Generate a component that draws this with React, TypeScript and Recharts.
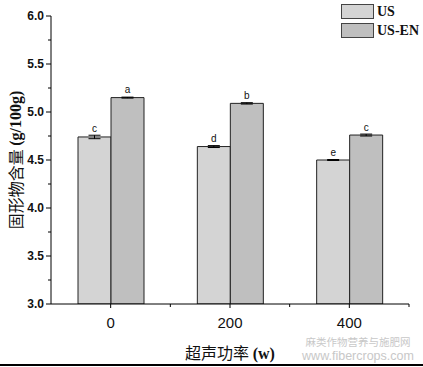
import { Bar, BarChart, ErrorBar, LabelList, XAxis, YAxis } from "recharts";

const categories = ["0", "200", "400"];
const usValues = [4.74, 4.64, 4.5];
const usEnValues = [5.15, 5.09, 4.76];
const usErrors = [0.018, 0.01, 0.005];
const usEnErrors = [0.005, 0.007, 0.01];
const usLetters = ["c", "d", "e"];
const usEnLetters = ["a", "b", "c"];
const yMajorTicks = [3.0, 3.5, 4.0, 4.5, 5.0, 5.5, 6.0];
const yMinorTicks = [3.25, 3.75, 4.25, 4.75, 5.25, 5.75];

const data = categories.map((power, i) => ({
  power,
  us: usValues[i],
  usEn: usEnValues[i],
  usErr: usErrors[i],
  usEnErr: usEnErrors[i],
  usLetter: usLetters[i],
  usEnLetter: usEnLetters[i],
}));

const W = 423;
const H = 367;
const MARGIN = { top: 16, right: 14, bottom: 33, left: 0 };
const Y_AXIS_W = 51;
const HALF_BAND = (W - MARGIN.right - Y_AXIS_W) / categories.length / 2;

const US_FILL = "#d4d4d4";
const US_EN_FILL = "#bfbfbf";
const SANS = "'Liberation Sans', Arial, sans-serif";
const SERIF = "'Liberation Serif', 'Times New Roman', serif";
const CJK = "'Noto Sans CJK SC', sans-serif";

const YTick = (props: any) => {
  const { x, y, payload } = props;
  const major = yMajorTicks.includes(payload.value);
  return (
    <g>
      <line x1={x - (major ? 5 : 3)} y1={y} x2={x} y2={y} stroke="#000" />
      {major && (
        <text
          x={x - 7}
          y={y}
          dy="0.36em"
          textAnchor="end"
          fontFamily={SANS}
          fontWeight="bold"
          fontSize={12}
          fill="#111"
        >
          {payload.value.toFixed(1)}
        </text>
      )}
    </g>
  );
};

const XTick = (props: any) => {
  const { x, y, payload } = props;
  return (
    <g>
      <line x1={x} y1={y} x2={x} y2={y + 4} stroke="#000" />
      <line x1={x + HALF_BAND} y1={y} x2={x + HALF_BAND} y2={y + 3} stroke="#000" />
      <text x={x} y={y + 24} textAnchor="middle" fontFamily={SANS} fontSize={15} fill="#111">
        {payload.value}
      </text>
    </g>
  );
};

const Letter = (props: any) => {
  const { x, y, width, value } = props;
  return (
    <text x={x + width / 2} y={y - 4.5} textAnchor="middle" fontFamily={SANS} fontSize={10} fill="#111">
      {value}
    </text>
  );
};

const legendItems = [
  { name: "US", fill: US_FILL },
  { name: "US-EN", fill: US_EN_FILL },
];

export default function App() {
  return (
    <div style={{ position: "absolute", left: 0, top: 0, width: W, height: H, background: "#fff" }}>
      <BarChart width={W} height={H} data={data} margin={MARGIN} barGap={0}>
        <XAxis
          dataKey="power"
          height={30}
          interval={0}
          tickSize={0}
          tickMargin={0}
          tick={<XTick />}
          axisLine={{ stroke: "#000" }}
          label={{
            position: "insideBottom",
            content: (p: any) => {
              const vb = p.viewBox;
              return (
                <text x={vb.x + vb.width / 2} y={vb.y + 55} textAnchor="middle" fontSize={16} fill="#111">
                  <tspan fontFamily={CJK}>超声功率 </tspan>
                  <tspan fontFamily={SERIF} fontWeight="bold">(w)</tspan>
                </text>
              );
            },
          }}
        />
        <YAxis
          type="number"
          domain={[3, 6]}
          ticks={[...yMajorTicks, ...yMinorTicks].sort((a, b) => a - b)}
          width={Y_AXIS_W}
          tickSize={0}
          tickMargin={0}
          tick={<YTick />}
          axisLine={{ stroke: "#000" }}
          allowDataOverflow
          label={{
            position: "insideLeft",
            content: (p: any) => {
              const vb = p.viewBox;
              const cy = vb.y + vb.height / 2;
              return (
                <text
                  x={15}
                  y={cy}
                  transform={`rotate(-90 15 ${cy})`}
                  textAnchor="middle"
                  dominantBaseline="central"
                  fontSize={16}
                  fill="#111"
                >
                  <tspan fontFamily={CJK}>固形物含量 </tspan>
                  <tspan fontFamily={SERIF} fontWeight="bold">(g/100g)</tspan>
                </text>
              );
            },
          }}
        />
        <Bar dataKey="us" name="US" fill={US_FILL} stroke="#222" strokeWidth={1} barSize={33} isAnimationActive={false}>
          <ErrorBar dataKey="usErr" width={6} stroke="#000" strokeWidth={1} />
          <LabelList dataKey="usLetter" content={<Letter />} />
        </Bar>
        <Bar dataKey="usEn" name="US-EN" fill={US_EN_FILL} stroke="#222" strokeWidth={1} barSize={33} isAnimationActive={false}>
          <ErrorBar dataKey="usEnErr" width={6} stroke="#000" strokeWidth={1} />
          <LabelList dataKey="usEnLetter" content={<Letter />} />
        </Bar>
      </BarChart>

      <div style={{ position: "absolute", left: 341, top: 4 }}>
        {legendItems.map((item) => (
          <div key={item.name} style={{ display: "flex", alignItems: "center", height: 15, marginBottom: 4 }}>
            <div
              style={{
                width: 31,
                height: 13,
                background: item.fill,
                border: "1px solid #444",
              }}
            />
            <span
              style={{
                marginLeft: 3,
                fontFamily: SERIF,
                fontWeight: "bold",
                fontSize: 14,
                color: "#111",
                lineHeight: "15px",
              }}
            >
              {item.name}
            </span>
          </div>
        ))}
      </div>

      {/* watermark */}
      <div
        style={{
          position: "absolute",
          left: 296,
          top: 336,
          width: 124,
          textAlign: "center",
          fontFamily: CJK,
          fontSize: 10.5,
          lineHeight: "11px",
          height: 11,
          color: "#c8c8c8",
          whiteSpace: "nowrap",
        }}
      >
        麻类作物营养与施肥网
      </div>
      <div
        style={{
          position: "absolute",
          left: 296,
          top: 350,
          width: 124,
          textAlign: "center",
          fontFamily: SANS,
          fontSize: 12.5,
          lineHeight: "12px",
          height: 12,
          color: "#c8c8c8",
          whiteSpace: "nowrap",
        }}
      >
        www.fibercrops.com
      </div>

      <div style={{ position: "absolute", left: 0, top: 364, width: W, height: 2, background: "#000" }} />
    </div>
  );
}
